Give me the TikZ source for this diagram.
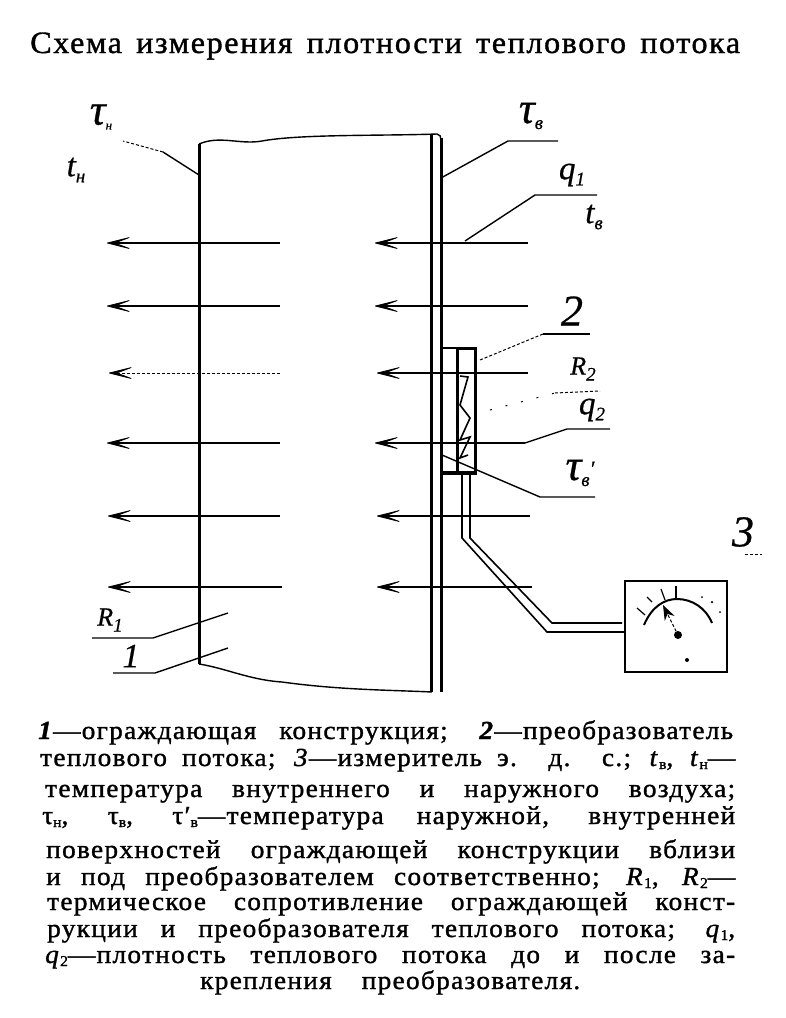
\documentclass[tikz,border=0pt]{standalone}
\usepackage{fontspec}
\setmainfont[FakeBold=0.6]{Liberation Serif}
\newfontfamily\capfont[FakeStretch=1.05,FakeBold=1.3,LetterSpace=5]{Liberation Serif}
\newfontfamily\headfont[FakeStretch=1.04,FakeBold=1.2,LetterSpace=5]{Liberation Serif}
\usetikzlibrary{arrows.meta}
\newcommand{\lsub}[1]{\raisebox{-3pt}{\fontsize{15}{15}\selectfont #1}}
\newcommand{\hsub}[1]{\raisebox{-6pt}{\fontsize{19}{19}\selectfont #1}}
\newcommand{\fitline}[2]{\makebox[#1pt][s]{#2}}
\tikzset{
	flow/.style={-{Stealth[length=30pt,width=15pt,inset=20pt,round,line width=0.8pt]},line width=1.5pt},
	leader/.style={line width=1.4pt},
	faint/.style={line width=1pt,densely dashed},
	hand/.style={inner sep=0pt,font=\fontsize{33}{33}\selectfont\itshape},
	taulabel/.style={hand,font=\fontsize{44}{44}\selectfont\itshape},
	capline/.style={anchor=base west,inner sep=0pt,font=\capfont\fontsize{26}{26}\selectfont},
	wallline/.style={line width=3pt},
}
\begin{document}
\begin{tikzpicture}[x=1pt,y=-1pt]
	\useasboundingbox (0,0) rectangle (785,1018);
	% title
	\node[capline,font=\headfont\fontsize{31}{31}\selectfont] (title) at (30,53) {\fitline{710}{Схема измерения плотности теплового потока}};
	% wall
	\draw[wallline] (199,664) -- (199,144);
	\draw[line width=1.4pt] (199,144) .. controls (220,135) and (240,145) .. (262,141) .. controls (300,134) and (380,136) .. (437,134) .. controls (440,134) and (441,137) .. (441,140);
	\draw[line width=1.4pt] (199,664) .. controls (225,668) and (250,680) .. (282,682) .. controls (340,690) and (390,690) .. (432,692);
	\draw[wallline] (431,134) -- (431,692);
	\draw[wallline] (441,138) -- (441,692);
	% flow lines, outside
	\path (280,243) coordinate (a_1) (107,243) coordinate (b_1);
	\path (280,306) coordinate (a_2) (107,306) coordinate (b_2);
	\path (280,373) coordinate (a_3) (109,373) coordinate (b_3);
	\path (280,443) coordinate (a_4) (107,443) coordinate (b_4);
	\path (280,516) coordinate (a_5) (108,516) coordinate (b_5);
	\path (282,587) coordinate (a_6) (108,587) coordinate (b_6);
	\draw[flow] (a_1) -- (b_1);
	\draw[flow] (a_2) -- (b_2);
	\draw[flow,line width=0.8pt,densely dashed] (a_3) -- (b_3);
	\draw[flow] (a_4) -- (b_4);
	\draw[flow] (a_5) -- (b_5);
	\draw[flow] (a_6) -- (b_6);
	% flow lines, inside
	\path (528,243) coordinate (c_1) (375,243) coordinate (d_1);
	\path (528,306) coordinate (c_2) (375,306) coordinate (d_2);
	\path (528,373) coordinate (c_3) (377,373) coordinate (d_3);
	\path (525,443) coordinate (c_4) (375,443) coordinate (d_4);
	\path (530,516) coordinate (c_5) (377,516) coordinate (d_5);
	\path (532,587) coordinate (c_6) (377,587) coordinate (d_6);
	\draw[flow] (c_1) -- (d_1);
	\draw[flow] (c_2) -- (d_2);
	\draw[flow] (c_3) -- (d_3);
	\draw[flow] (c_4) -- (d_4);
	\draw[flow] (c_5) -- (d_5);
	\draw[flow] (c_6) -- (d_6);
	% transducer
	\draw[line width=2pt] (442,348) -- (475,348);
	\draw[wallline] (457,348) rectangle (475,473);
	\draw[line width=4pt] (442,473) -- (475,473);
	\draw[line width=1.6pt] (460,376) -- (468,377) -- (460,405) -- (470,418) -- (460,440) -- (470,437) -- (460,458) -- (468,455);
	% wires
	\node[draw,line width=2.5pt,minimum width=102pt,minimum height=91pt,inner sep=0pt] (meter) at (676,626.5) {};
	\coordinate (w_1) at (462,473);
	\coordinate (w_2) at (470,473);
	\coordinate (w_3) at (meter.west |- 0,632);
	\coordinate (w_4) at (622,623);
	\draw[line width=1.6pt] (w_1) -- (462,538) -- (547,632) -- (w_3);
	\draw[line width=1.6pt] (w_2) -- (470,538) -- (552,623) -- (w_4);
	% meter face
	\draw[line width=2pt] (644,625) .. controls (652,606) and (665,599) .. (677,599) .. controls (692,599) and (706,608) .. (712,623);
	\draw[line width=1.2pt] (645,615) -- (637,608);
	\draw[line width=1.2pt] (652,602) -- (647,597);
	\draw[line width=1.2pt] (665,600) -- (661,589);
	\draw[line width=1.5pt] (676,599) -- (676,586);
	\node[circle,fill,inner sep=0pt,minimum size=8pt] (pivot) at (678,635) {};
	\node[circle,fill,inner sep=0pt,minimum size=4pt] (spot) at (687,660) {};
	\node[circle,fill,inner sep=0pt,minimum size=2pt] (dot_1) at (702,597) {};
	\node[circle,fill,inner sep=0pt,minimum size=2.5pt] (dot_2) at (712,602) {};
	\node[circle,fill,inner sep=0pt,minimum size=2pt] (dot_3) at (720,612) {};
	\coordinate (tip) at (663,605);
	\draw[faint,-{Stealth[length=15pt,width=11pt,inset=5pt]}] (pivot) -- (tip);
	% labels
	\node[taulabel] (tau_n) at (101,117) {τ\raisebox{-5pt}{\fontsize{13}{13}\selectfont н}};
	\node[hand] (t_n) at (76,170) {t\hsub{н}};
	\node[taulabel] (tau_v) at (531,116) {τ\hsub{в}};
	\node[hand] (q_1) at (572,175) {q\hsub{1}};
	\node[hand] (t_v) at (594,217) {t\hsub{в}};
	\node[hand,font=\fontsize{44}{44}\selectfont\itshape] (two) at (572,311) {2};
	\node[hand,font=\fontsize{26}{26}\selectfont\itshape] (R_2) at (583,369) {R\hsub{2}};
	\node[hand] (q_2) at (592,410) {q\hsub{2}};
	\node[taulabel] (tau_v2) at (580,473) {τ\hsub{в}\raisebox{4pt}{\fontsize{22}{22}\selectfont ′}};
	\node[hand,font=\fontsize{26}{26}\selectfont\itshape] (R_1) at (110,620) {R\hsub{1}};
	\node[hand,font=\fontsize{34}{34}\selectfont\itshape] (one) at (131,656) {1};
	\node[hand,font=\fontsize{44}{44}\selectfont\itshape] (three) at (743,532) {3};
	% leaders
	\coordinate (e_1) at (199,175);
	\coordinate (e_2) at (123,141);
	\draw[leader] (e_1) -- (163,152);
	\draw[faint] (163,152) -- (e_2);
	\coordinate (e_3) at (441,178);
	\coordinate (e_4) at (558,141);
	\draw[leader] (e_3) -- (508,141) -- (e_4);
	\coordinate (e_5) at (465,241);
	\coordinate (e_6) at (597,195);
	\draw[leader] (e_5) -- (535,195) -- (e_6);
	\coordinate (e_7) at (480,360);
	\coordinate (e_8) at (590,334);
	\draw[faint] (e_7) -- (543,334);
	\draw[leader] (543,334) -- (e_8);
	\coordinate (e_9) at (490,410);
	\coordinate (e_10) at (600,391);
	\draw[faint,dash pattern=on 2pt off 14pt] (e_9) -- (555,393);
	\draw[faint] (555,393) -- (e_10);
	\coordinate (e_11) at (525,443);
	\coordinate (e_12) at (610,429);
	\draw[leader] (e_11) -- (567,429) -- (e_12);
	\coordinate (e_13) at (442,455);
	\coordinate (e_14) at (595,497);
	\draw[leader] (e_13) -- (540,497) -- (e_14);
	\coordinate (e_15) at (228,613);
	\coordinate (e_16) at (92,638);
	\draw[leader] (e_15) -- (153,638) -- (e_16);
	\coordinate (e_17) at (228,648);
	\coordinate (e_18) at (113,673);
	\draw[leader] (e_17) -- (155,673) -- (e_18);
	\coordinate (e_19) at (745,554);
	\coordinate (e_20) at (762,554);
	\draw[faint] (e_19) -- (e_20);
	% caption
	\node[capline] (line_1) at (38,739) {\fitline{695}{\textbf{\textit{1}}—ограждающая конструкция; \textbf{\textit{2}}—преобразователь}};
	\node[capline] (line_2) at (40,766) {\fitline{695}{теплового потока; \textit{3}—измеритель э. д. с.; \textit{t}\lsub{в}, \textit{t}\lsub{н}—}};
	\node[capline] (line_3) at (45,797) {\fitline{690}{температура внутреннего и наружного воздуха;}};
	\node[capline] (line_4) at (42,824) {\fitline{693}{τ\lsub{н}, τ\lsub{в}, τ′\lsub{в}—температура наружной, внутренней}};
	\node[capline] (line_5) at (46,858) {\fitline{689}{поверхностей ограждающей конструкции вблизи}};
	\node[capline] (line_6) at (46,885) {\fitline{689}{и под преобразователем соответственно; \textit{R}\lsub{1}, \textit{R}\lsub{2}—}};
	\node[capline] (line_7) at (47,910) {\fitline{688}{термическое сопротивление ограждающей конст-}};
	\node[capline] (line_8) at (47,937) {\fitline{688}{рукции и преобразователя теплового потока; \textit{q}\lsub{1},}};
	\node[capline] (line_9) at (45,963) {\fitline{690}{\textit{q}\lsub{2}—плотность теплового потока до и после за-}};
	\node[capline] (line_10) at (200,989) {\fitline{380}{крепления преобразователя.}};
\end{tikzpicture}
\end{document}
